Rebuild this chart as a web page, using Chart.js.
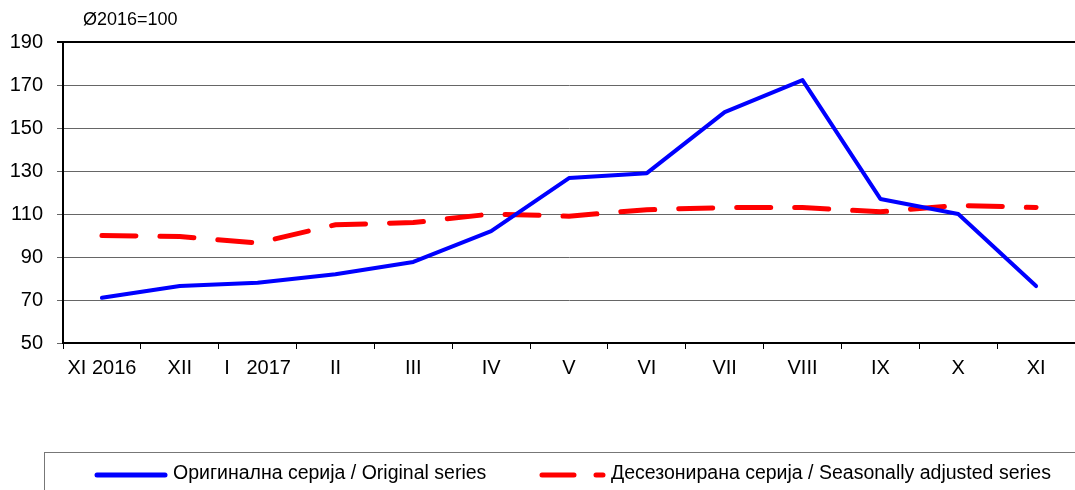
<!DOCTYPE html>
<html>
<head>
<meta charset="utf-8">
<script src="https://cdn.jsdelivr.net/npm/chart.js@4/dist/chart.umd.min.js"></script>
<style>
  html, body { margin: 0; padding: 0; background: #fff; }
  #wrap { position: relative; width: 1075px; height: 490px; overflow: hidden; }
  #unit { position: absolute; left: 83px; top: 9px; font: 18px "Liberation Sans", Arial, sans-serif; color: #000; }
</style>
</head>
<body>
<div id="wrap">
  <canvas id="chart" width="1075" height="490"></canvas>
  <div id="unit">Ø2016=100</div>
</div>
<script>
const months = ["XI 2016", "XII", "I   2017", "II", "III", "IV", "V", "VI", "VII", "VIII", "IX", "X", "XI"];
const originalSeries = [71, 76.5, 78, 82, 87.7, 102, 126.7, 129, 157.4, 172.3, 117, 110, 76.5];
const adjustedSeries = [100, 99.5, 96.5, 105, 106, 110, 109, 112, 113, 113, 111, 114, 113];
const yTicks = [50, 70, 90, 110, 130, 150, 170, 190];
const labelOriginal = "Оригинална серија / Original series";
const labelAdjusted = "Десезонирана серија / Seasonally adjusted series";

const FONT = '"Liberation Sans", Arial, sans-serif';

// legend box drawn on the canvas under the plot
const legendBox = {
    id: "legendBox",
    afterDraw(chart) {
        const ctx = chart.ctx;
        ctx.save();
        ctx.strokeStyle = "#777";
        ctx.lineWidth = 1;
        ctx.strokeRect(44.5, 452.5, 1100, 60);

        ctx.font = "19.5px " + FONT;
        ctx.fillStyle = "#000";
        ctx.textBaseline = "middle";

        const blue = chart.data.datasets[0];
        ctx.strokeStyle = blue.borderColor;
        ctx.lineWidth = 5;
        ctx.lineCap = "round";
        ctx.beginPath();
        ctx.moveTo(97, 475);
        ctx.lineTo(165, 475);
        ctx.stroke();
        ctx.fillText(blue.label, 173, 474);

        const red = chart.data.datasets[1];
        ctx.strokeStyle = red.borderColor;
        ctx.beginPath();
        ctx.moveTo(542, 475);
        ctx.lineTo(574, 475);
        ctx.moveTo(596, 475);
        ctx.lineTo(603, 475);
        ctx.stroke();
        ctx.fillText(red.label, 611, 474);
        ctx.restore();
    }
};

new Chart(document.getElementById("chart").getContext("2d"), {
    type: "line",
    data: {
        labels: months,
        datasets: [{
            label: labelOriginal,
            data: originalSeries,
            borderColor: "#0000ff",
            borderWidth: 4,
            pointRadius: 0,
            tension: 0,
            borderJoinStyle: "round",
            borderCapStyle: "round"
        }, {
            label: labelAdjusted,
            data: adjustedSeries,
            borderColor: "#ff0000",
            borderWidth: 5,
            borderDash: [34, 24],
            borderCapStyle: "round",
            pointRadius: 0,
            tension: 0
        }]
    },
    options: {
        responsive: false,
        animation: false,
        layout: { padding: { top: 42, right: 0, bottom: 0, left: 0 } },
        plugins: { legend: { display: false }, tooltip: { enabled: false } },
        scales: {
            x: {
                offset: true,
                afterFit(scale) { scale.height = 147; },
                grid: { offset: true, drawOnChartArea: false, tickLength: 6, color: "#000", lineWidth: 1 },
                border: { color: "#000", width: 2 },
                ticks: { color: "#000", font: { family: FONT, size: 20 }, padding: 7, maxRotation: 0, autoSkip: false }
            },
            y: {
                min: 50,
                max: 190,
                afterFit(scale) { scale.width = 63; },
                afterBuildTicks(scale) { scale.ticks = yTicks.map(v => ({ value: v })); },
                grid: {
                    color: ctx => ctx.tick && ctx.tick.value === 190 ? "#000" : "#666",
                    lineWidth: ctx => ctx.tick && ctx.tick.value === 190 ? 2 : 1,
                    tickLength: 6
                },
                border: { color: "#000", width: 2 },
                ticks: { color: "#000", font: { family: FONT, size: 20 }, padding: 14 }
            }
        }
    },
    plugins: [legendBox]
});
</script>
</body>
</html>
